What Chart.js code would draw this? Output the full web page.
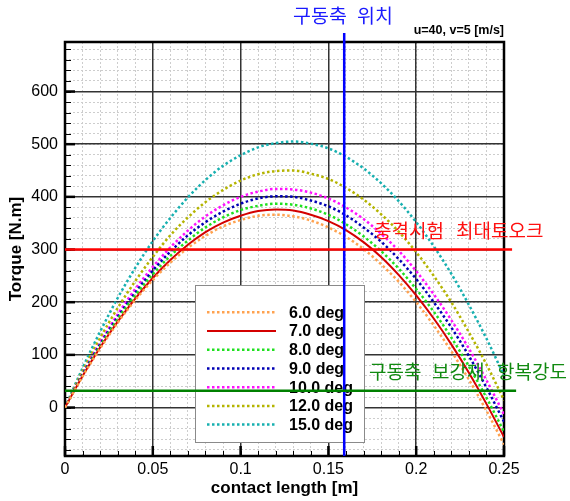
<!DOCTYPE html>
<html><head><meta charset="utf-8">
<script src="https://cdn.jsdelivr.net/npm/chart.js@4.4.1/dist/chart.umd.min.js"></script>
<style>html,body{margin:0;padding:0;background:#fff;}#wrap{width:570px;height:501px;}</style>
</head><body><div id="wrap"><canvas id="c" width="570" height="501"></canvas></div>
<script>
// ---- data ----
const contactLength = [0,0.01,0.02,0.03,0.04,0.05,0.06,0.07,0.08,0.09,0.10,0.11,0.12,0.13,0.14,0.15,0.16,0.17,0.18,0.19,0.20,0.21,0.22,0.23,0.24,0.25];
const torque6deg  = [0,59,112,161,204,242,275,303,326,344,356,364,366,363,355,342,324,301,272,239,200,156,107,53,-6,-70];
const torque7deg  = [0,60,114,163,207,246,280,309,333,351,364,373,376,374,366,354,337,314,286,252,213,169,120,66,7,-56];
const torque8deg  = [0,61,117,168,213,253,288,317,342,361,375,383,387,385,378,366,348,325,297,264,225,182,133,78,19,-46];
const torque9deg  = [0,63,120,172,218,260,296,327,352,372,387,397,401,400,393,382,365,342,315,282,244,200,152,98,38,-27];
const torque10deg = [0,64,123,177,225,267,304,336,363,384,400,410,415,414,408,397,380,358,330,298,259,215,166,112,52,-13];
const torque12deg = [0,69,132,189,240,286,327,361,390,413,431,443,449,450,444,434,417,395,367,334,295,250,200,143,82,14];
const torque15deg = [0,75,144,208,265,316,360,399,432,459,479,494,502,505,501,492,476,454,426,392,352,306,254,195,131,61];
const seriesLabels = ['6.0 deg','7.0 deg','8.0 deg','9.0 deg','10.0 deg','12.0 deg','15.0 deg'];
const impactMaxTorque = 300;     // 충격시험 최대토오크
const shaftYieldTorque = 32;     // 구동축 보강재 항복강도
const shaftPosition = 0.159;     // 구동축 위치
const xTickValues = [0,0.05,0.1,0.15,0.2,0.25];
const yTickValues = [0,100,200,300,400,500,600];
const xRange = [0,0.25];
const yRange = [-92,694];

// ---- styles ----
const seriesStyles = [
  {color:'#ffa24f', dash:[2.5,2.5], width:2.5},
  {color:'#d40000', dash:[],        width:2},
  {color:'#1fe01f', dash:[2.5,2.5], width:2.5},
  {color:'#0000b4', dash:[2.5,2.5], width:2.5},
  {color:'#ff10ff', dash:[2.5,2.5], width:2.5},
  {color:'#b4b400', dash:[2.5,2.5], width:2.5},
  {color:'#17b0b0', dash:[2.5,2.5], width:2.5}
];
const seriesData = [torque6deg,torque7deg,torque8deg,torque9deg,torque10deg,torque12deg,torque15deg];

const minorX = []; for (let i=0;i<=25;i++) minorX.push(i/100);
const minorY = []; for (let v=-80;v<=680;v+=20) minorY.push(v);

const datasets = seriesData.map((arr,i)=>({
  label: seriesLabels[i],
  data: contactLength.map((x,j)=>({x:x,y:arr[j]})),
  borderColor: seriesStyles[i].color,
  borderDash: seriesStyles[i].dash,
  borderWidth: seriesStyles[i].width,
  pointRadius: 0,
  cubicInterpolationMode: 'monotone',
  xAxisID:'x', yAxisID:'y', order: 1, fill:false
}));
datasets.push({
  label:'impact', data:[{x:xRange[0],y:impactMaxTorque},{x:0.2546,y:impactMaxTorque}],
  borderColor:'#ff0000', borderWidth:2.5, pointRadius:0, clip:false, xAxisID:'x', yAxisID:'y', order:0
});
datasets.push({
  label:'yield', data:[{x:xRange[0],y:shaftYieldTorque},{x:0.2569,y:shaftYieldTorque}],
  borderColor:'#008000', borderWidth:2.5, pointRadius:0, clip:false, xAxisID:'x', yAxisID:'y', order:0
});
datasets.push({
  label:'shaft', data:[{x:shaftPosition,y:yRange[0]},{x:shaftPosition,y:711}],
  borderColor:'#0000ff', borderWidth:2.5, pointRadius:0, clip:false, xAxisID:'x', yAxisID:'y', order:0
});

const FONT = '"Liberation Sans", Arial, sans-serif';
const KFONT = '"Noto Sans CJK KR", "Noto Sans", sans-serif';

const deco = {
  id:'deco',
  beforeDatasetsDraw(chart){
    const {ctx, chartArea:a} = chart;
    const x = chart.scales.x, y = chart.scales.y;
    ctx.save();
    ctx.strokeStyle = '#000';
    ctx.lineWidth = 1;
    minorY.forEach(v=>{ const py=Math.round(y.getPixelForValue(v))+0.5; ctx.beginPath(); ctx.moveTo(a.left,py); ctx.lineTo(a.left+6,py); ctx.stroke(); });
    minorX.forEach(v=>{ const px=Math.round(x.getPixelForValue(v))+0.5; ctx.beginPath(); ctx.moveTo(px,a.bottom); ctx.lineTo(px,a.bottom-5); ctx.stroke(); });
    ctx.lineWidth = 2.5;
    yTickValues.forEach(v=>{ const py=y.getPixelForValue(v); ctx.beginPath(); ctx.moveTo(a.left,py); ctx.lineTo(a.left+10,py); ctx.stroke(); });
    xTickValues.forEach(v=>{ const px=x.getPixelForValue(v); ctx.beginPath(); ctx.moveTo(px,a.bottom); ctx.lineTo(px,a.bottom-10); ctx.stroke(); });
    ctx.lineWidth = 2.5;
    ctx.strokeRect(a.left, a.top, a.right-a.left, a.bottom-a.top);
    // legend
    const bx=195.5, by=285.5, bw=169, bh=157;
    ctx.fillStyle='#fff'; ctx.fillRect(bx,by,bw,bh);
    ctx.strokeStyle='#8a8a8a'; ctx.lineWidth=1; ctx.strokeRect(bx,by,bw,bh);
    ctx.font = 'bold 16px '+FONT; ctx.textBaseline='middle'; ctx.textAlign='left';
    seriesLabels.forEach((lab,i)=>{
      const ry = 312.3 + i*18.72;
      const st = seriesStyles[i];
      ctx.strokeStyle = st.color; ctx.lineWidth = st.width; ctx.setLineDash(st.dash);
      ctx.beginPath(); ctx.moveTo(207, ry); ctx.lineTo(276, ry); ctx.stroke();
      ctx.setLineDash([]);
      ctx.fillStyle='#000'; ctx.fillText(lab, 289, ry+1);
    });
    ctx.restore();
  },
  afterDraw(chart){
    const {ctx} = chart;
    ctx.save();
    ctx.textBaseline='middle'; ctx.textAlign='left';
    ctx.font = '19.5px '+KFONT;
    ctx.fillStyle = '#1a1aff';
    ctx.fillText('구동축', 293, 16); ctx.fillText('위치', 357, 16);
    ctx.font = '19px '+KFONT;
    ctx.fillStyle = '#ff1010';
    ctx.fillText('충격시험', 374, 231); ctx.fillText('최대토오크', 456, 231);
    ctx.fillStyle = '#118a11';
    ctx.fillText('구동축', 369, 372); ctx.fillText('보강재', 432, 372); ctx.fillText('항복강도', 497, 372);
    ctx.font = 'bold 12.5px '+FONT; ctx.fillStyle='#000'; ctx.textAlign='right';
    ctx.fillText('u=40, v=5 [m/s]', 504, 31);
    ctx.restore();
  }
};

new Chart(document.getElementById('c'), {
  type:'line',
  data:{datasets},
  options:{
    responsive:false, animation:false, devicePixelRatio:1,
    layout:{padding:{top:42,right:66,left:0,bottom:0}},
    plugins:{legend:{display:false}, tooltip:{enabled:false}},
    scales:{
      xMinor:{type:'linear', axis:'x', position:'bottom', min:xRange[0], max:xRange[1],
        afterBuildTicks:s=>{s.ticks=minorX.map(v=>({value:v}));},
        ticks:{display:false}, grid:{color:'#cdcdcd', lineWidth:1, drawTicks:false, borderDash:[2,2]},
        border:{display:false, dash:[2,2]}, afterFit:s=>{s.height=0;}},
      yMinor:{type:'linear', axis:'y', position:'left', min:yRange[0], max:yRange[1],
        afterBuildTicks:s=>{s.ticks=minorY.map(v=>({value:v}));},
        ticks:{display:false}, grid:{color:'#cdcdcd', lineWidth:1, drawTicks:false, borderDash:[2,2]},
        border:{display:false, dash:[2,2]}, afterFit:s=>{s.width=0;}},
      x:{type:'linear', axis:'x', position:'bottom', min:xRange[0], max:xRange[1],
        afterBuildTicks:s=>{s.ticks=xTickValues.map(v=>({value:v}));},
        ticks:{color:'#000', font:{family:FONT,size:16}, padding:4, autoSkip:false, maxRotation:0,
          callback:v=>String(+Number(v).toFixed(2))},
        grid:{color:'#333', lineWidth:1.5, drawTicks:false},
        border:{display:false},
        title:{display:true, text:'contact length [m]', color:'#000', font:{family:FONT,size:17,weight:'bold'}, padding:{top:0,bottom:2}},
        afterFit:s=>{s.height=45;}},
      y:{type:'linear', axis:'y', position:'left', min:yRange[0], max:yRange[1],
        afterBuildTicks:s=>{s.ticks=yTickValues.map(v=>({value:v}));},
        ticks:{color:'#000', font:{family:FONT,size:16}, padding:7, autoSkip:false},
        grid:{color:'#333', lineWidth:1.5, drawTicks:false},
        border:{display:false},
        title:{display:true, text:'Torque [N.m]', color:'#000', font:{family:FONT,size:17,weight:'bold'}, padding:{top:6,bottom:0}},
        afterFit:s=>{s.width=65;}}
    }
  },
  plugins:[deco]
});
</script></body></html>
